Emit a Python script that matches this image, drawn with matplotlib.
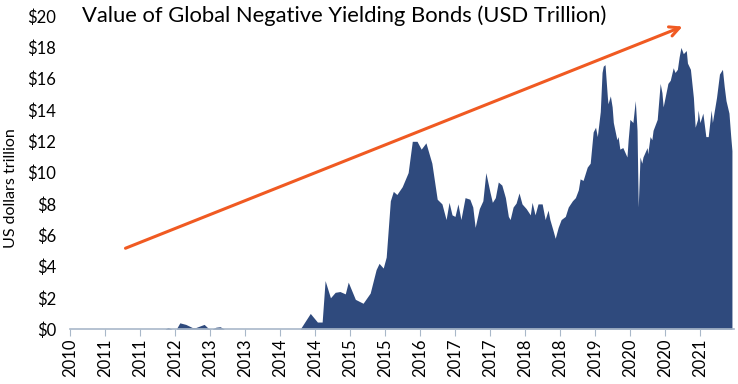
import matplotlib.pyplot as plt
import numpy as np

# value of negative yielding debt, USD trillion
years = [2010.66, 2012.26, 2012.31, 2012.38, 2012.45, 2012.51, 2012.61, 2012.72, 2012.78, 2012.92,
         2012.99, 2013.05, 2013.12, 2013.19, 2013.26, 2014.54, 2014.71, 2014.83, 2014.91, 2014.96,
         2015.05, 2015.13, 2015.21, 2015.30, 2015.35, 2015.47, 2015.60, 2015.72, 2015.82, 2015.87,
         2015.94, 2015.99, 2016.06, 2016.11, 2016.17, 2016.26, 2016.36, 2016.43, 2016.51, 2016.58,
         2016.66, 2016.76, 2016.85, 2016.93, 2017.00, 2017.05, 2017.10, 2017.15, 2017.20, 2017.25,
         2017.32, 2017.40, 2017.45, 2017.49, 2017.56, 2017.62, 2017.67, 2017.74, 2017.78, 2017.83,
         2017.88, 2017.94, 2018.00, 2018.05, 2018.08, 2018.13, 2018.18, 2018.23, 2018.28, 2018.35,
         2018.42, 2018.45, 2018.50, 2018.55, 2018.62, 2018.67, 2018.72, 2018.75, 2018.80, 2018.84,
         2018.89, 2018.94, 2019.01, 2019.06, 2019.13, 2019.18, 2019.23, 2019.26, 2019.31, 2019.38,
         2019.43, 2019.48, 2019.52, 2019.55, 2019.60, 2019.63, 2019.65, 2019.68, 2019.72, 2019.73,
         2019.77, 2019.80, 2019.82, 2019.88, 2019.90, 2019.93, 2019.98, 2020.05, 2020.07, 2020.10,
         2020.15, 2020.19, 2020.22, 2020.24, 2020.27, 2020.30, 2020.32, 2020.39, 2020.40, 2020.44,
         2020.47, 2020.49, 2020.56, 2020.61, 2020.64, 2020.66, 2020.73, 2020.74, 2020.78, 2020.83,
         2020.86, 2020.90, 2020.93, 2020.96, 2021.00, 2021.05, 2021.07, 2021.12, 2021.17, 2021.20,
         2021.24, 2021.25, 2021.28, 2021.33, 2021.38, 2021.42, 2021.47, 2021.49, 2021.56, 2021.61,
         2021.66, 2021.69, 2021.72, 2021.77, 2021.80, 2021.82]
values = [0, 0, 0.1, 0, 0, 0.4, 0.3, 0.1, 0.1, 0.3,
          0.05, 0, 0.12, 0.15, 0, 0, 1.0, 0.45, 0.45, 3.1,
          2.0, 2.35, 2.4, 2.25, 3.0, 1.9, 1.65, 2.3, 3.8, 4.2,
          3.9, 4.6, 8.2, 8.8, 8.6, 9.1, 10.0, 12.0, 12.0, 11.5,
          11.9, 10.6, 8.3, 8.0, 7.0, 8.1, 7.3, 7.2, 8.0, 7.0,
          8.4, 8.3, 7.8, 6.5, 7.7, 8.2, 10.0, 8.75, 8.1, 8.4,
          9.4, 9.2, 8.4, 7.2, 7.0, 7.8, 8.05, 8.7, 8.0, 7.7,
          7.3, 8.1, 7.3, 8.0, 8.0, 7.0, 7.6, 7.0, 6.35, 5.8,
          6.5, 7.0, 7.2, 7.8, 8.2, 8.4, 8.9, 9.6, 9.5, 10.35,
          10.6, 12.6, 12.9, 12.3, 13.9, 16.4, 16.8, 16.9, 14.8, 14.4,
          14.9, 14.2, 13.2, 12.1, 12.3, 11.5, 11.6, 11.0, 12.1, 13.4,
          13.2, 14.6, 12.7, 7.8, 11.0, 10.6, 11.0, 11.6, 11.2, 12.3,
          12.1, 12.7, 13.4, 15.7, 15.1, 14.2, 15.5, 15.7, 15.9, 16.7,
          16.4, 16.6, 17.4, 18.0, 17.6, 17.8, 17.0, 16.6, 14.8, 12.9,
          13.4, 14.0, 13.2, 13.8, 12.3, 12.3, 14.0, 13.2, 14.8, 16.3,
          16.6, 15.5, 14.6, 13.8, 12.3, 11.4]

tick_labels = ['2010', '2011', '2011', '2012', '2013', '2013', '2014', '2014', '2015', '2015',
               '2016', '2017', '2017', '2018', '2018', '2019', '2020', '2020', '2021']
yticks = [0, 2, 4, 6, 8, 10, 12, 14, 16, 18, 20]

# trend arrow (start, end) in data units
arrow_start = (2011.55, 5.1)
arrow_end = (2021.03, 19.4)

plt.rcParams['font.family'] = ['Lato', 'DejaVu Sans']

fig = plt.figure(figsize=(7.38, 3.84), dpi=100)
ax = fig.add_axes([0.095, 0.143, 0.9, 0.815])

ax.fill_between(years, values, 0, color='#2F4A7D', linewidth=0)

ax.annotate('', xy=arrow_end, xytext=arrow_start,
            arrowprops=dict(arrowstyle='->,head_length=0.7,head_width=0.35',
                            color='#F05A22', lw=2.2))

ax.set_xlim(2010.66, 2021.86)
ax.set_ylim(0, 20)

ticks = 2010.66 + 0.59 * np.arange(len(tick_labels))
ax.set_xticks(ticks)
ax.set_xticklabels(tick_labels, rotation=90, fontsize=12)
ax.set_yticks(yticks)
ax.set_yticklabels(['$%d' % v for v in yticks], fontsize=12)

for s in ['top', 'right', 'left']:
    ax.spines[s].set_visible(False)
ax.spines['bottom'].set_color('#A9B8C9')
ax.spines['bottom'].set_linewidth(1.2)
ax.tick_params(axis='x', direction='out', length=5, color='#A9B8C9', pad=2)
ax.tick_params(axis='y', length=0, pad=10)

ax.set_ylabel('US dollars trillion', fontsize=11.5)
ax.yaxis.set_label_coords(-0.078, 0.45)
ax.text(2010.86, 20, 'Value of Global Negative Yielding Bonds (USD Trillion)',
        fontsize=15.8, va='center', ha='left')

fig.savefig('out.png', dpi=100)
